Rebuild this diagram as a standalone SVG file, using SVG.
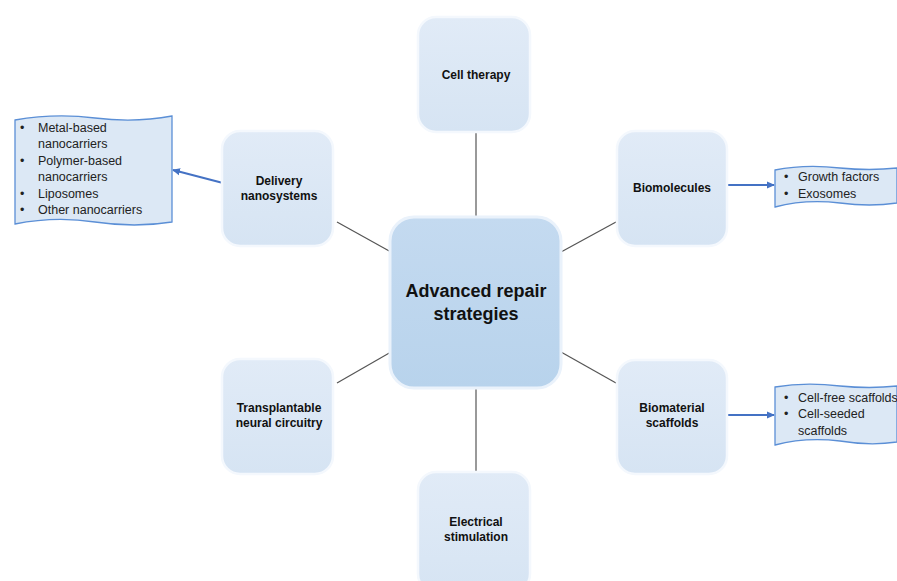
<svg xmlns="http://www.w3.org/2000/svg" width="897" height="581" viewBox="0 0 897 581">
<defs>
<linearGradient id="ng" x1="0" y1="0" x2="0" y2="1">
<stop offset="0" stop-color="#e1ebf7"/>
<stop offset="1" stop-color="#d6e4f3"/>
</linearGradient>
<linearGradient id="cg" x1="0" y1="0" x2="0" y2="1">
<stop offset="0" stop-color="#c4daf0"/>
<stop offset="1" stop-color="#b8d3ec"/>
</linearGradient>
<marker id="ah" markerWidth="8" markerHeight="8" refX="7" refY="4" orient="auto" markerUnits="userSpaceOnUse">
<path d="M0,0.5 L8,4 L0,7.5 Z" fill="#4472c4"/>
</marker>
</defs>
<style>
.node{fill:url(#ng);stroke:#f4f8fd;stroke-width:2.5}
.center{fill:url(#cg);stroke:#eaf2fb;stroke-width:3}
.lbl{font-family:"Liberation Sans",Arial,sans-serif;font-weight:bold;font-size:12px;fill:#111;text-anchor:middle}
.clbl{font-family:"Liberation Sans",Arial,sans-serif;font-weight:bold;font-size:18px;fill:#111;text-anchor:middle}
.call{fill:#dce8f5;stroke:#5b8fd6;stroke-width:1.3}
.ct{font-family:"Liberation Sans",Arial,sans-serif;font-size:12.5px;fill:#222}
.conn{stroke:#555;stroke-width:1.2;fill:none}
.arr{stroke:#4472c4;stroke-width:2;fill:none;marker-end:url(#ah)}
</style>
<rect width="897" height="581" fill="#ffffff"/>
<g id="connectors">
<line class="conn" x1="476" y1="132" x2="476" y2="217"/>
<line class="conn" x1="476" y1="388" x2="476" y2="472"/>
<line class="conn" x1="337" y1="222" x2="391" y2="252"/>
<line class="conn" x1="561" y1="252" x2="616" y2="222"/>
<line class="conn" x1="561" y1="352" x2="616" y2="383"/>
<line class="conn" x1="391" y1="352" x2="337" y2="383"/>
<line class="arr" x1="223" y1="183" x2="173" y2="170"/>
<line class="arr" x1="727" y1="185" x2="774" y2="185"/>
<line class="arr" x1="727" y1="415" x2="774" y2="415"/>
</g>
<g id="center">
<rect class="center" x="390" y="217" width="171" height="171" rx="24"/>
<text class="clbl" x="476" y="297">Advanced repair</text>
<text class="clbl" x="476" y="320">strategies</text>
</g>
<g id="cell-therapy">
<rect class="node" x="418" y="17" width="112" height="115" rx="18"/>
<text class="lbl" x="476" y="79">Cell therapy</text>
</g>
<g id="delivery">
<rect class="node" x="222" y="131" width="111" height="115" rx="18"/>
<text class="lbl" x="279" y="185">Delivery</text>
<text class="lbl" x="279" y="200">nanosystems</text>
</g>
<g id="biomolecules">
<rect class="node" x="617" y="131" width="110" height="115" rx="18"/>
<text class="lbl" x="672" y="192">Biomolecules</text>
</g>
<g id="transplantable">
<rect class="node" x="222" y="359" width="111" height="115" rx="18"/>
<text class="lbl" x="279" y="412">Transplantable</text>
<text class="lbl" x="279" y="427">neural circuitry</text>
</g>
<g id="biomaterial">
<rect class="node" x="617" y="360" width="110" height="114" rx="18"/>
<text class="lbl" x="672" y="412">Biomaterial</text>
<text class="lbl" x="672" y="427">scaffolds</text>
</g>
<g id="electrical">
<rect class="node" x="418" y="472" width="112" height="120" rx="18"/>
<text class="lbl" x="476" y="526">Electrical</text>
<text class="lbl" x="476" y="541">stimulation</text>
</g>
<g id="callout-delivery">
<path class="call" d="M15,120 Q55,113 95,118 Q135,123 172,116 L172,222 Q135,228 95,222 Q55,216 15,224 Z"/>
<text class="ct" x="20" y="132">•</text><text class="ct" x="38" y="132">Metal-based</text>
<text class="ct" x="38" y="148">nanocarriers</text>
<text class="ct" x="20" y="165">•</text><text class="ct" x="38" y="165">Polymer-based</text>
<text class="ct" x="38" y="181">nanocarriers</text>
<text class="ct" x="20" y="198">•</text><text class="ct" x="38" y="198">Liposomes</text>
<text class="ct" x="20" y="214">•</text><text class="ct" x="38" y="214">Other nanocarriers</text>
</g>
<g id="callout-biomolecules">
<path class="call" d="M775,170 Q805,164 840,168 Q870,171 897,168 L897,203 Q870,207 840,203 Q805,199 775,207 Z"/>
<text class="ct" x="784" y="181">•</text><text class="ct" x="798" y="181">Growth factors</text>
<text class="ct" x="784" y="198">•</text><text class="ct" x="798" y="198">Exosomes</text>
</g>
<g id="callout-biomaterial">
<path class="call" d="M775,387 Q805,382 840,386 Q870,389 897,386 L897,442 Q870,446 840,441 Q805,437 775,445 Z"/>
<text class="ct" x="784" y="402">•</text><text class="ct" x="798" y="402">Cell-free scaffolds</text>
<text class="ct" x="784" y="418">•</text><text class="ct" x="798" y="418">Cell-seeded</text>
<text class="ct" x="798" y="435">scaffolds</text>
</g>
</svg>
